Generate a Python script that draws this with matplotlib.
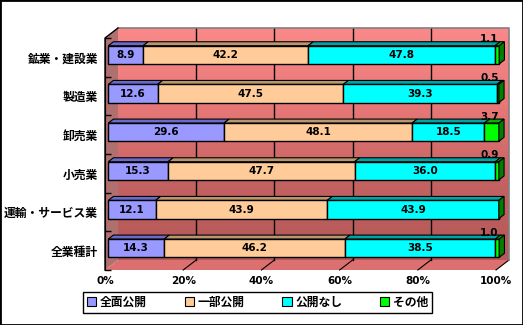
import numpy as np
import matplotlib
matplotlib.use("Agg")
from matplotlib import pyplot as plt
from matplotlib.patches import Polygon, Rectangle
from matplotlib.colors import LinearSegmentedColormap

plt.rcParams['font.family'] = ['Noto Sans CJK JP', 'DejaVu Sans']

categories = ["鉱業・建設業", "製造業", "卸売業", "小売業", "運輸・サービス業", "全業種計"]
full_open = [8.9, 12.6, 29.6, 15.3, 12.1, 14.3]
part_open = [42.2, 47.5, 48.1, 47.7, 43.9, 46.2]
not_open = [47.8, 39.3, 18.5, 36.0, 43.9, 38.5]
other = [1.1, 0.5, 3.7, 0.9, 0.0, 1.0]
series_names = ["全面公開", "一部公開", "公開なし", "その他"]
series = [full_open, part_open, not_open, other]
front_colors = ["#9999FF", "#FFCC99", "#00FFFF", "#00FF00"]
top_colors = ["#6A6AC8", "#B8966E", "#00A4A4", "#00B400"]
xticks = [0, 20, 40, 60, 80, 100]
xticklabels = ["0%", "20%", "40%", "60%", "80%", "100%"]

W, H = 523, 325
fig = plt.figure(figsize=(W / 100, H / 100), dpi=100)
# front plane of the 3D box, in pixels
x0_px, x1_px, ytop_px, ybot_px = 105, 496, 38, 270
ax = fig.add_axes([x0_px / W, (H - ybot_px) / H, (x1_px - x0_px) / W, (ybot_px - ytop_px) / H])
n = len(categories)
ax.patch.set_visible(False)

# depth vector (pixels) converted into data units
px_x = 100 / (x1_px - x0_px)
px_y = n / (ybot_px - ytop_px)
DX, DY = 13 * px_x, -10 * px_y


def off(f):
    return f * DX, f * DY


ylo, yhi = -0.5, n - 0.5
wx, wy = off(1.0)

# back wall with vertical gradient
cmap = LinearSegmentedColormap.from_list("wall", ["#FA8A8A", "#E87878", "#C46262", "#B45858"])
grad = np.linspace(0, 1, 200).reshape(-1, 1)
ax.imshow(grad, cmap=cmap, aspect="auto", origin="upper",
          extent=(wx, 100 + wx, yhi + wy, ylo + wy), zorder=0, clip_on=False)
ax.set_xlim(0, 100)
ax.set_ylim(n - 0.5, -0.5)

# left wall and floor
ax.add_patch(Polygon([(0, ylo), (wx, ylo + wy), (wx, yhi + wy), (0, yhi)],
                     closed=True, facecolor="#B07070", edgecolor="none", zorder=1, clip_on=False))
ax.add_patch(Polygon([(0, yhi), (100, yhi), (100 + wx, yhi + wy), (wx, yhi + wy)],
                     closed=True, facecolor="#DC7070", edgecolor="none", zorder=1, clip_on=False))

# gridlines on wall and floor
for t in xticks[1:-1]:
    ax.plot([t + wx, t + wx], [ylo + wy, yhi + wy], color="black", lw=1, zorder=2, clip_on=False)
for t in xticks[1:]:
    ax.plot([t, t + wx], [yhi, yhi + wy], color="black", lw=0.8, zorder=2, clip_on=False)

# wall outline
ax.plot([wx, 100 + wx, 100 + wx], [ylo + wy, ylo + wy, yhi + wy], color="#808080", lw=1.2,
        zorder=2, clip_on=False)
ax.plot([0, 0, wx], [yhi, ylo, ylo + wy], color="black", lw=1, zorder=2, clip_on=False)

# bars
bh = 0.47
fx, fy = off(0.25)
bx, by = off(0.65)
ddx, ddy = bx - fx, by - fy
y = np.arange(n)
left = np.zeros(n)
for k, (vals, fc, tc) in enumerate(zip(series, front_colors, top_colors)):
    vals = np.array(vals)
    ax.barh(y + fy, vals, left=left + fx, height=bh, color=fc, edgecolor="black",
            linewidth=1, zorder=5, clip_on=False)
    for i in range(n):
        if vals[i] <= 0:
            continue
        l = left[i] + fx
        r = l + vals[i]
        top = y[i] + fy - bh / 2
        ax.add_patch(Polygon([(l, top), (r, top), (r + ddx, top + ddy), (l + ddx, top + ddy)],
                             closed=True, facecolor=tc, edgecolor="black", lw=0.8,
                             zorder=4, clip_on=False))
        if k < 3:
            ax.text(l + vals[i] / 2, y[i] + fy, f"{vals[i]:.1f}", ha="center", va="center",
                    fontsize=7.5, fontweight="bold", family="DejaVu Sans", zorder=7)
        else:
            ax.text(98.3, y[i] + fy - 0.40, f"{vals[i]:.1f}", ha="center", va="center",
                    fontsize=7.5, fontweight="bold", family="DejaVu Sans", zorder=7)
    left = left + vals

# right end side face
tot_r = left + fx
for i in range(n):
    top = y[i] + fy - bh / 2
    bot = y[i] + fy + bh / 2
    ax.add_patch(Polygon([(tot_r[i], top), (tot_r[i] + ddx, top + ddy), (tot_r[i] + ddx, bot + ddy),
                          (tot_r[i], bot)], closed=True, facecolor="#008000", edgecolor="black",
                         lw=0.8, zorder=6, clip_on=False))

# axes
for s in ["top", "right", "bottom"]:
    ax.spines[s].set_visible(False)
ax.spines["left"].set_zorder(8)
ax.set_yticks(y)
ax.set_yticklabels(categories, fontsize=8.5, fontweight="bold")
ax.set_yticks(np.arange(n + 1) - 0.5, minor=True)
ax.tick_params(axis="y", which="major", length=0, pad=5)
ax.tick_params(axis="y", which="minor", length=4, direction="in", width=1)
ax.set_xticks(xticks)
ax.set_xticklabels(xticklabels, fontsize=7.5, fontweight="bold", family="DejaVu Sans")
ax.tick_params(axis="x", length=0, pad=4)

# legend
handles = [Rectangle((0, 0), 1, 1, facecolor=c, edgecolor="black", lw=0.8) for c in front_colors]
leg = fig.legend(handles, series_names, loc="center", bbox_to_anchor=(257.5 / W, 1 - 302.5 / H),
                 ncol=4, frameon=True, fancybox=False, edgecolor="black", framealpha=1,
                 prop={"size": 8.5, "weight": "bold"}, handlelength=0.8, handleheight=0.8,
                 handletextpad=0.3, columnspacing=3.2, borderpad=0.3, borderaxespad=0)
leg.get_frame().set_linewidth(1)

fig.patches.append(Rectangle((0, 0), 1, 1, transform=fig.transFigure, fill=False,
                             edgecolor="black", lw=2))

fig.savefig("out.png", dpi=100)
